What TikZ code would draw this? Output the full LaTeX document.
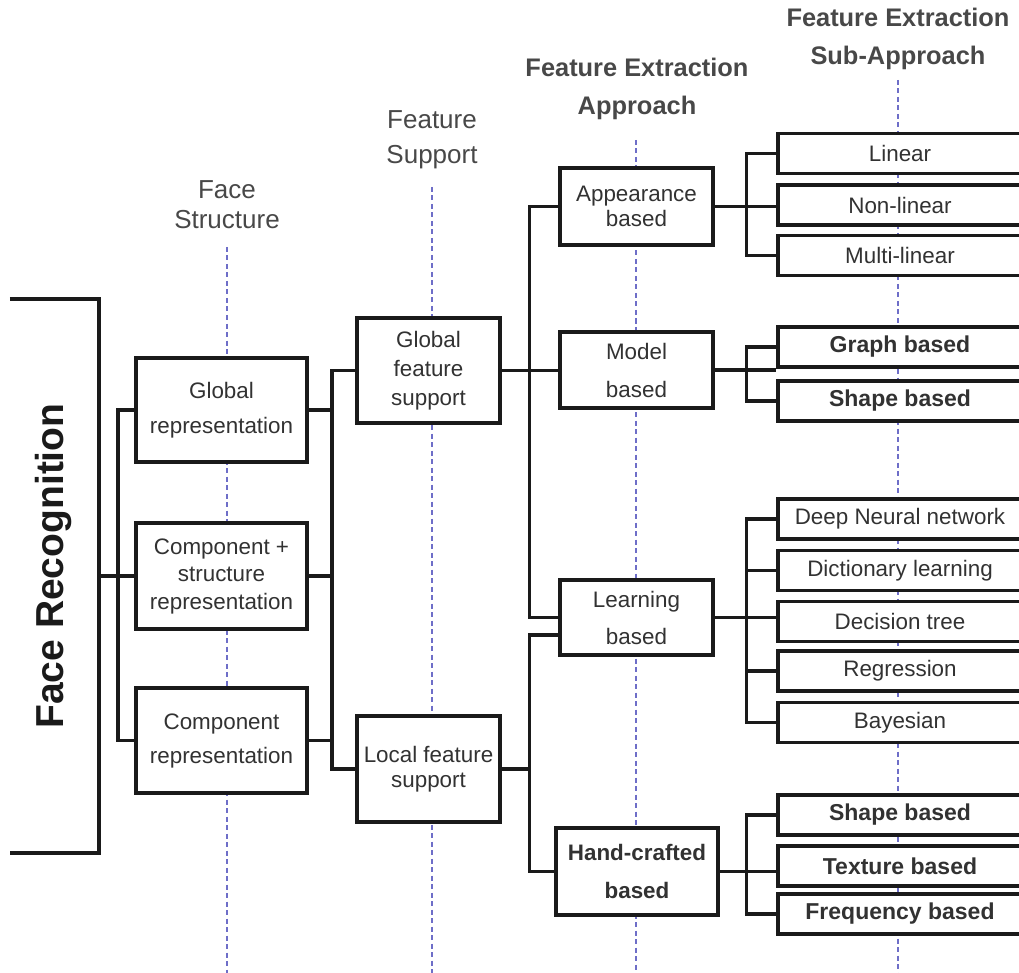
\documentclass[tikz,border=0pt]{standalone}
\usepackage{fontspec}
\setmainfont{Liberation Sans}
\usetikzlibrary{calc}
\definecolor{guide}{HTML}{6E6EC8}
\definecolor{ink}{HTML}{1A1A1A}
\definecolor{txt}{HTML}{323232}
\definecolor{head}{HTML}{484848}

\begin{document}
\begin{tikzpicture}[x=1pt,y=-1pt,
  box/.style={draw=ink, line width=3.5pt, fill=white, inner sep=0pt, align=center, text=txt,
    font=\fontsize{22.4}{27.5}\selectfont},
  subbox/.style={box, minimum width=244pt, minimum height=40pt},
  boldsub/.style={subbox, font=\bfseries\fontsize{23}{27}\selectfont},
  wire/.style={draw=ink, line width=3.5pt},
  guideline/.style={draw=guide, line width=1.8pt, dash pattern=on 5pt off 3.5pt},
  headtxt/.style={text=head, align=center, inner sep=0pt},
  heada/.style={headtxt, font=\fontsize{26}{30}\selectfont},
  headb/.style={headtxt, font=\bfseries\fontsize{25.4}{38}\selectfont}
]
\useasboundingbox (0,0) rectangle (1019,973);

% column headings
\node[heada] (hfs) at (227,205) {Face\\Structure};
\node[heada, font=\fontsize{26}{35}\selectfont] (hsup) at (432,139.5) {Feature\\Support};
\node[headb] (happ) at (637,89) {Feature Extraction\\Approach};
\node[headb] (hsub) at (898,39) {Feature Extraction\\Sub-Approach};

% dotted column guides
\coordinate (gEndA) at (227,973);
\coordinate (gEndB) at (432,973);
\coordinate (gEndC) at (636,973);
\coordinate (gEndD) at (898,973);
\draw[guideline] (227,247) -- (gEndA);
\draw[guideline] (432,187) -- (gEndB);
\draw[guideline] (636,140) -- (gEndC);
\draw[guideline] (898,80) -- (gEndD);

% root box, open on the left
\node[minimum width=89pt, minimum height=554pt, inner sep=0pt] (fr) at (54.5,576) {};
\draw[wire, line join=miter] (fr.north west) -- (fr.north east) -- (fr.south east) -- (fr.south west);
\node[rotate=90, anchor=base, text=ink, font=\bfseries\fontsize{39}{39}\selectfont] (frlabel) at (63,566) {Face Recognition};

% face structure
\node[box, minimum width=171pt, minimum height=104pt, font=\fontsize{22.4}{35}\selectfont] (gr) at (221.5,410) {Global\\representation};
\node[box, minimum width=171pt, minimum height=106pt] (cs) at (221.5,576) {Component +\\structure\\representation};
\node[box, minimum width=171pt, minimum height=105pt, font=\fontsize{22.4}{34}\selectfont] (cr) at (221.5,740.5) {Component\\representation};

% feature support
\node[box, minimum width=143pt, minimum height=105pt, font=\fontsize{22.4}{29}\selectfont] (gfs) at (428.5,370.5) {Global\\feature\\support};
\node[box, minimum width=143pt, minimum height=106pt, font=\fontsize{22.4}{25}\selectfont] (lfs) at (428.5,769) {Local feature\\support};

% feature extraction approach
\node[box, minimum width=153pt, minimum height=77pt, font=\fontsize{22.4}{25}\selectfont] (app) at (636.5,206.5) {Appearance\\based};
\node[box, minimum width=153pt, minimum height=76pt, font=\fontsize{22.4}{38}\selectfont] (model) at (636.5,370) {Model\\based};
\node[box, minimum width=153pt, minimum height=75pt, font=\fontsize{22.4}{37}\selectfont] (learn) at (636.5,617.5) {Learning\\based};
\node[box, minimum width=162pt, minimum height=87pt, font=\bfseries\fontsize{22.4}{38}\selectfont] (hc) at (637,871.5) {Hand-crafted\\based};

% feature extraction sub-approach
\node[subbox] (lin) at (900,153.5) {Linear};
\node[subbox] (nonlin) at (900,205) {Non-linear};
\node[subbox] (multi) at (900,255.5) {Multi-linear};
\node[boldsub] (graph) at (900,347) {Graph based};
\node[boldsub] (shp) at (900,401) {Shape based};
\node[subbox] (dnn) at (900,519) {Deep Neural network};
\node[subbox] (dict) at (900,570.5) {Dictionary learning};
\node[subbox] (dt) at (900,621.5) {Decision tree};
\node[subbox] (reg) at (900,671) {Regression};
\node[subbox] (bayes) at (900,722.5) {Bayesian};
\node[boldsub] (sb2) at (900,815) {Shape based};
\node[boldsub] (tex) at (900,866) {Texture based};
\node[boldsub] (freq) at (900,914) {Frequency based};

% bus positions
\coordinate (b1) at (118,0);
\coordinate (b2) at (332,0);
\coordinate (b3) at (529.5,0);
\coordinate (b4) at (746.5,0);

% root to face structure
\draw[wire] (fr.east |- cs.west) -- (cs.west);
\draw[wire] (gr.west) -- (gr.west -| b1) |- (cr.west);

% face structure to feature support
\draw[wire] (gr.east) -- (gr.east -| b2);
\draw[wire] (cs.east) -- (cs.east -| b2);
\draw[wire] (cr.east) -- (cr.east -| b2);
\draw[wire] (gfs.west) -- (gfs.west -| b2) |- (lfs.west);

% feature support to approach
\draw[wire] (gfs.east) -- (gfs.east -| model.west);
\draw[wire] (app.west) -- (app.west -| b3) |- (learn.west);
\draw[wire] (lfs.east) -- (lfs.east -| b3);
\draw[wire] ($(learn.west)+(0,17.5)$) -| (b3 |- hc.west) -- (hc.west);

% approach to sub-approach
\draw[wire] (app.east) -- (app.east -| nonlin.west);
\draw[wire] (lin.west) -- (lin.west -| b4) |- (multi.west);
\draw[wire] (model.east) -- (model.east -| graph.west);
\draw[wire] (graph.west) -- (graph.west -| b4) |- (shp.west);
\draw[wire] (learn.east) -- (learn.east -| dt.west);
\draw[wire] (dnn.west) -- (dnn.west -| b4) |- (bayes.west);
\draw[wire] (dict.west) -- (dict.west -| b4);
\draw[wire] (reg.west) -- (reg.west -| b4);
\draw[wire] (hc.east) -- (hc.east -| tex.west);
\draw[wire] (sb2.west) -- (sb2.west -| b4) |- (freq.west);
\end{tikzpicture}
\end{document}
